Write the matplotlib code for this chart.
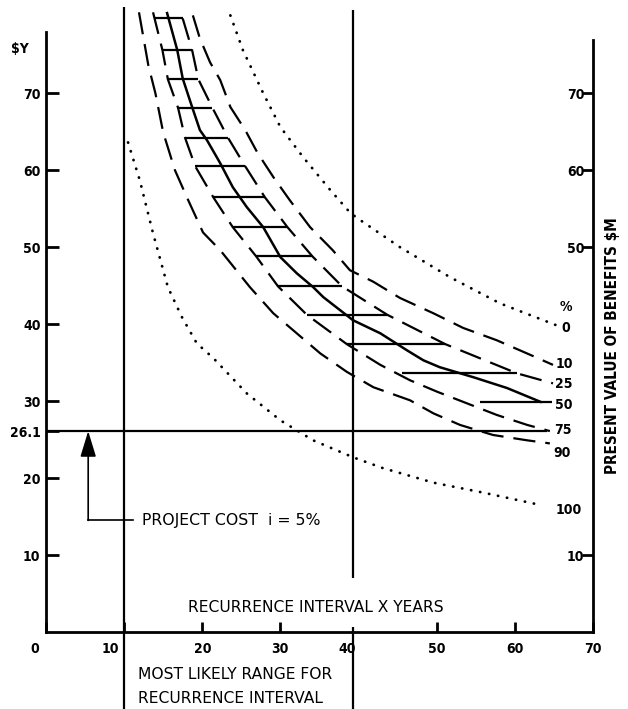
import numpy as np
import matplotlib
matplotlib.use('Agg')
import matplotlib.pyplot as plt
from matplotlib.transforms import ScaledTranslation

# Curves: x = recurrence interval (years), y = $Y
# dotted envelope 0 % and 100 %
p0_x = [23.6, 25.2, 27.8, 30.0, 32.9, 36.4, 38.9, 39.8, 45.3, 51.7, 58.1, 65.2]
p0_y = [80.1, 75.6, 70.0, 65.6, 61.7, 57.4, 54.5, 53.8, 50.0, 46.1, 42.7, 39.9]
p100_x = [10.5, 12.0, 13.7, 15.6, 17.4, 19.3, 21.4, 25.7, 30.0, 34.2, 39.3, 43.1, 49.6, 56.0, 63.3]
p100_y = [63.6, 58.7, 51.8, 44.8, 40.9, 37.5, 35.6, 31.0, 27.5, 24.9, 22.7, 21.3, 19.4, 18.1, 16.5]

# dashed percentile curves
p10_x = [18.8, 19.7, 21.0, 22.3, 23.6, 25.5, 27.1, 29.1, 31.2, 33.8, 36.7, 38.9, 41.9, 45.3, 49.6, 53.4, 57.7, 62.0, 64.9]
p10_y = [80.1, 77.1, 74.0, 71.7, 68.2, 65.2, 62.2, 59.1, 56.1, 52.6, 49.6, 47.0, 45.5, 43.4, 41.4, 39.5, 37.9, 36.0, 34.7]
p25_x = [17.5, 18.7, 19.5, 21.3, 23.3, 25.5, 28.0, 30.9, 34.1, 37.9, 43.7, 51.1, 60.3, 64.9]
p25_y = [79.7, 75.6, 71.8, 68.1, 64.2, 60.5, 56.5, 52.6, 48.8, 44.9, 41.2, 37.4, 33.6, 32.3]
p75_x = [13.7, 14.9, 15.6, 16.9, 17.8, 19.1, 21.4, 23.9, 26.9, 29.7, 33.4, 38.5, 42.8, 46.6, 50.1, 53.9, 57.7, 61.6, 64.5]
p75_y = [80.5, 75.6, 71.8, 68.1, 64.2, 60.5, 56.5, 52.6, 48.8, 44.9, 41.2, 37.4, 34.7, 32.7, 31.2, 29.7, 28.2, 26.9, 26.1]
p90_x = [11.9, 13.1, 14.0, 15.0, 16.5, 18.2, 20.1, 22.3, 26.1, 29.1, 32.1, 35.1, 38.5, 41.9, 46.6, 49.6, 53.0, 57.2, 61.6, 64.5]
p90_y = [80.5, 73.6, 70.0, 64.9, 60.0, 56.1, 51.9, 49.6, 44.8, 41.4, 38.8, 36.2, 33.8, 31.8, 30.1, 28.4, 26.9, 25.6, 24.9, 24.5]

# solid median (50 %)
p50_x = [15.5, 16.8, 17.5, 18.7, 19.7, 20.6, 22.3, 23.9, 25.7, 27.8, 30.0, 32.1, 34.2, 35.5, 39.3, 42.8, 46.2, 48.3, 50.4, 54.7, 59.0, 63.3]
p50_y = [80.4, 75.6, 71.9, 68.2, 65.2, 63.9, 60.9, 57.8, 55.2, 52.6, 48.7, 46.6, 44.8, 43.5, 40.5, 38.8, 36.6, 35.3, 34.4, 33.1, 31.7, 29.9]

# horizontal hatch bars between the 75 % and 25 % curves
bar_y = [79.7, 75.6, 71.8, 68.1, 64.2, 60.5, 56.5, 52.6, 48.8, 44.9, 41.2, 37.4, 33.6, 29.9]
bar_x0 = [14.0, 14.9, 15.6, 16.9, 17.8, 19.1, 21.4, 23.9, 26.9, 29.7, 33.4, 38.5, 45.6, 55.6]
bar_x1 = [17.5, 18.7, 19.5, 21.3, 23.3, 25.5, 28.0, 30.9, 34.1, 37.9, 43.7, 51.1, 60.3, 64.8]

project_cost = 26.1
range_x = [10, 39.3]

curve_labels = ['0', '10', '25', '50', '75', '90', '100']
curve_label_x = [66.0, 65.2, 65.2, 65.2, 65.0, 64.9, 65.2]
curve_label_y = [39.5, 34.8, 32.2, 29.5, 26.2, 23.2, 15.8]

x_ticks = [0, 10, 20, 30, 40, 50, 60, 70]
y_ticks_left = [10, 20, 26.1, 30, 40, 50, 60, 70]
y_ticks_right = [10, 50, 60, 70]

plt.rcParams['font.family'] = 'DejaVu Sans'
tfont = dict(fontsize=10, fontweight='bold', fontstretch='condensed')

fig = plt.figure(figsize=(6.28, 7.09), dpi=100)
ax = fig.add_axes([0, 0, 1, 1])
ax.set_xlim(-5.89, 74.5)
ax.set_ylim(-10.0, 82.1)

lw = 1.6
dash = (10, 4.5)
dots = (0.1, 3.2)
ax.plot(p0_x, p0_y, color='k', lw=2.0, dashes=dots, dash_capstyle='round')
ax.plot(p100_x, p100_y, color='k', lw=2.0, dashes=dots, dash_capstyle='round')
for xs, ys in [(p10_x, p10_y), (p25_x, p25_y), (p75_x, p75_y), (p90_x, p90_y)]:
	ax.plot(xs, ys, color='k', lw=lw, dashes=dash)
ax.plot(p50_x, p50_y, color='k', lw=1.8)
ax.hlines(bar_y, bar_x0, bar_x1, color='k', lw=lw)

# project cost line and the range lines
ax.hlines(project_cost, 0, 64.1, color='k', lw=1.6)
ax.vlines(range_x[0], -10, 81.2, color='k', lw=1.6)
ax.vlines(range_x[1], 7.0, 80.8, color='k', lw=1.6)
ax.vlines(range_x[1], -10, 0.6, color='k', lw=1.6)

# arrow from the project cost note
ax.plot([11.1, 5.4], [14.5, 14.5], color='k', lw=1.2)
ax.annotate('', xy=(5.4, project_cost), xytext=(5.4, 14.5),
	arrowprops=dict(arrowstyle='-|>,head_length=0.72,head_width=0.22', color='k', lw=1.2,
	mutation_scale=22, shrinkA=0, shrinkB=0))
ax.text(12.3, 14.5, 'PROJECT COST  i = 5%', fontsize=11.3, va='center')

ax.text(34.6, 3.2, 'RECURRENCE INTERVAL X YEARS', fontsize=11.2, ha='center', va='center')
ax.text(11.8, -5.5, 'MOST LIKELY RANGE FOR', fontsize=11.2, va='center')
ax.text(11.8, -8.6, 'RECURRENCE INTERVAL', fontsize=11.2, va='center')
ax.text(-3.4, 75.7, '$Y', ha='center', va='center', **tfont)
ax.text(72.5, 37.2, 'PRESENT VALUE OF BENEFITS $M', rotation=90, ha='center', va='center',
	fontsize=11, fontweight='bold', fontstretch='condensed')

ax.text(65.8, 42.2, '%', ha='left', va='center', **tfont)
for lab, lx, ly in zip(curve_labels, curve_label_x, curve_label_y):
	ax.text(lx, ly, lab, ha='left', va='center', **tfont)

# axes
for s in ['top', 'right']:
	ax.spines[s].set_visible(False)
ax.spines['left'].set_position(('data', 0))
ax.spines['left'].set_bounds(0, 77.9)
ax.spines['bottom'].set_position(('data', 0))
ax.spines['bottom'].set_bounds(0, 70)
for s in ['left', 'bottom']:
	ax.spines[s].set_linewidth(2)

ax.set_yticks(y_ticks_left, labels=[str(v) for v in y_ticks_left])
ax.set_xticks(x_ticks, labels=[str(v) for v in x_ticks])
ax.tick_params(axis='y', direction='in', length=9, width=2, pad=4)
ax.tick_params(axis='x', direction='in', length=7, width=2, pad=7)
for lbl in ax.get_xticklabels() + ax.get_yticklabels():
	lbl.set_fontweight('bold')
	lbl.set_fontstretch('condensed')
	lbl.set_fontsize(10)
shift = {'0': -11, '10': -14, '40': -11}
for lbl in ax.get_xticklabels():
	if lbl.get_text() in shift:
		lbl.set_transform(lbl.get_transform() + ScaledTranslation(shift[lbl.get_text()] / 100., 0, fig.dpi_scale_trans))
# the 40 mark sits on the range line instead
for tick in ax.xaxis.get_major_ticks():
	if tick.get_loc() == 40:
		tick.tick1line.set_visible(False)

ax2 = ax.twinx()
ax2.set_ylim(ax.get_ylim())
for s in ['top', 'left', 'bottom']:
	ax2.spines[s].set_visible(False)
ax2.spines['right'].set_position(('data', 70))
ax2.spines['right'].set_bounds(0, 76.9)
ax2.spines['right'].set_linewidth(2)
ax2.set_yticks(y_ticks_right, labels=[str(v) for v in y_ticks_right])
ax2.tick_params(axis='y', direction='in', length=8, width=2, pad=-6)
for lbl in ax2.get_yticklabels():
	lbl.set_horizontalalignment('right')
	lbl.set_fontweight('bold')
	lbl.set_fontstretch('condensed')
	lbl.set_fontsize(10)

plt.savefig('out.png', dpi=100)
